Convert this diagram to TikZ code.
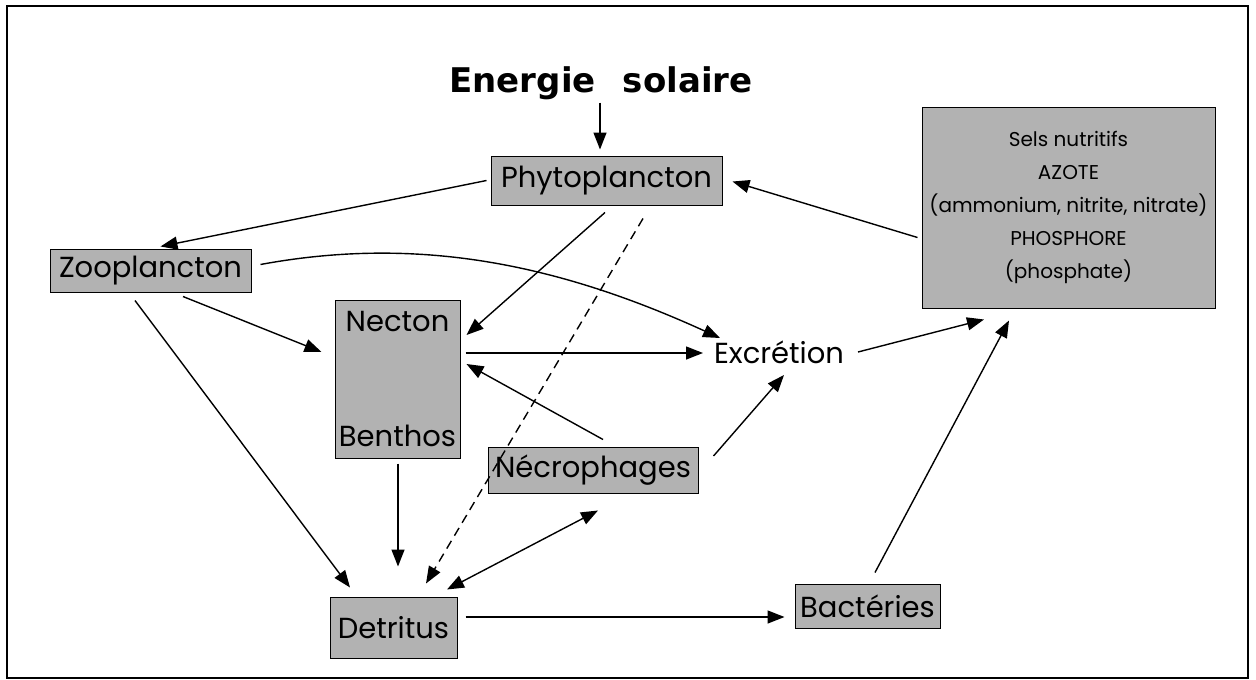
\documentclass[tikz,border=0pt]{standalone}
\usepackage{fontspec}
\setmainfont{Poppins}
\newfontfamily\titlefont{DejaVu Sans}
\usetikzlibrary{arrows.meta,calc}
\begin{document}
\begin{tikzpicture}[x=1pt,y=-1pt,
  box/.style={draw=black, line width=1pt, fill=black!30, inner sep=0pt},
  lbl/.style={font=\fontsize{29}{32}\selectfont},
  tip/.tip={Triangle[length=17pt,width=13pt]},
  arr/.style={line width=1.4pt, -tip},
  darr/.style={line width=1.4pt, tip-tip},
]
\useasboundingbox (0,0) rectangle (1256,680);
\draw[line width=2pt] (7,6) rectangle (1248,678);

% title
\node[font=\titlefont\bfseries\fontsize{34}{38}\selectfont, inner sep=0pt] (energie) at (601,83) {Energie\hspace{27pt}solaire};

% boxes
\node[box, lbl, minimum width=231pt, minimum height=49pt] (phyto) at (606.5,180.5) {Phytoplancton};
\node[box, lbl, minimum width=201pt, minimum height=43pt] (zoo) at (150.5,270.5) {Zooplancton};
\node[box, minimum width=125pt, minimum height=158pt] (nb) at (397.5,379) {};
\node[lbl, inner sep=0pt] (necton) at (397.5,322) {Necton};
\node[lbl, inner sep=0pt] (benthos) at (397.5,436) {Benthos};
\node[box, lbl, minimum width=210pt, minimum height=46pt] (necro) at (593,470) {Nécrophages};
\node[box, lbl, minimum width=127pt, minimum height=61pt] (det) at (393.5,627.5) {Detritus};
\node[box, lbl, minimum width=145pt, minimum height=44pt] (bact) at (867.5,606) {Bactéries};
\node[box, minimum width=293pt, minimum height=201pt, align=center,
      font=\fontsize{20}{33}\selectfont] (sels) at (1068.5,207.5)
      {Sels nutritifs\\AZOTE\\(ammonium, nitrite, nitrate)\\PHOSPHORE\\(phosphate)};
\node[lbl, inner sep=0pt] (exc) at (779,352) {Excrétion};

% connectors
\draw[arr] ($(phyto.north)+(-6.5,-53)$) -- ($(phyto.north)+(-6.5,-6)$);
\draw[arr] ($(phyto.west)+(-4,0)$) -- ($(zoo.north)+(10,-2)$);
\draw[arr] ($(sels.west)+(-4,30)$) -- ($(phyto.east)+(10,1)$);
\draw[arr] ($(zoo.east)+(9,-6)$) .. controls (420,235) and (560,265) .. ($(exc.center)+(-59,-14)$);
\draw[arr] ($(zoo.south)+(32.5,4)$) -- ($(nb.west)+(-13,-27)$);
\draw[arr] ($(zoo.south)+(-15.5,8)$) -- ($(det.north)+(-43.5,-9)$);
\draw[arr] ($(phyto.south)+(-1.5,7)$) -- ($(nb.east)+(6,-44)$);
\draw[arr, dash pattern=on 9pt off 6pt] ($(phyto.south)+(36.5,13)$) -- ($(det.north)+(32.5,-13)$);
\draw[arr] ($(nb.east)+(5,-26)$) -- ($(exc.center)+(-76,1)$);
\draw[arr] ($(necro.north)+(10,-7)$) -- ($(nb.east)+(6,-15)$);
\draw[arr] ($(necro.east)+(15,-14)$) -- ($(exc.center)+(5,23)$);
\draw[arr] ($(exc.center)+(79,0)$) -- ($(sels.south)+(-84.5,11)$);
\draw[arr] ($(bact.north)+(7.5,-11)$) -- ($(sels.south)+(-59.5,12)$);
\draw[arr] ($(nb.south)+(0.5,5)$) -- ($(det.north)+(4.5,-30)$);
\draw[darr] ($(det.north)+(53.5,-7)$) -- ($(necro.south)+(5,17)$);
\draw[arr] ($(det.east)+(8,-10.5)$) -- ($(bact.west)+(-10,11)$);
\end{tikzpicture}
\end{document}
